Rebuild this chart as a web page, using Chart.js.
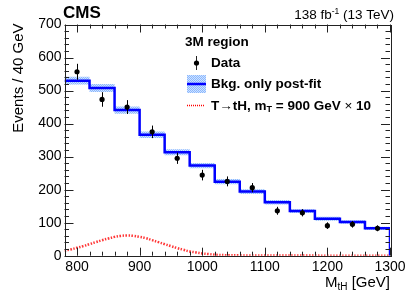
<!DOCTYPE html>
<html>
<head>
<meta charset="utf-8">
<script src="https://cdn.jsdelivr.net/npm/chart.js@4.4.1/dist/chart.umd.min.js"></script>
<style>
  html, body { margin: 0; background: #fff; }
  canvas { display: block; }
</style>
</head>
<body>
<canvas id="mth" width="407" height="294"></canvas>
<script>
// ── Data ──────────────────────────────────────────────────────
const binEdges  = [780, 820, 860, 900, 940, 980, 1020, 1060, 1100, 1140, 1180, 1220, 1260, 1300];
const bkgValues = [530, 508, 441, 366, 313, 273, 224, 194, 162, 135, 112, 102, 83];
const bkgUnc    = [12, 12, 11, 10, 9, 8, 8, 7, 7, 6, 6, 5, 5];

const dataX   = [800, 840, 880, 920, 960, 1000, 1040, 1080, 1120, 1160, 1200, 1240, 1280];
const dataY   = [557, 473, 450, 375, 295, 244, 225, 206, 136, 130, 91, 95, 83];
const dataErr = [24, 22, 21, 19, 17, 16, 15, 14, 12, 11, 10, 10, 9];

const sigX = [780, 790, 800, 810, 820, 830, 840, 850, 860, 870, 880, 890, 900, 910, 920, 930,
              940, 950, 960, 970, 980, 990, 1000, 1010, 1020, 1040, 1060, 1100, 1200, 1300];
const sigY = [15, 19, 24, 29, 35, 41, 47, 52, 57, 60, 61, 60, 57, 53, 47, 41,
              35, 29, 23, 18, 13, 10, 7, 5, 3, 1.5, 1, 0.5, 0.2, 0.1];

const xTicks = [800, 900, 1000, 1100, 1200, 1300];
const yTicks = [0, 100, 200, 300, 400, 500, 600, 700];

const FONT = '"Liberation Sans", Arial, Helvetica, sans-serif';

// step-histogram points (stepped: 'before' draws horizontal first)
function stepPts(vals, dropToZero) {
  const pts = vals.map((v, i) => ({ x: binEdges[i], y: v }));
  pts.push({ x: binEdges[binEdges.length - 1], y: vals[vals.length - 1] });
  if (dropToZero) pts.push({ x: binEdges[binEdges.length - 1], y: 0 });
  return pts;
}

function bandPattern() {
  const p = document.createElement('canvas');
  p.width = 2; p.height = 2;
  const c = p.getContext('2d');
  c.fillStyle = '#cfe2ff'; c.fillRect(0, 0, 2, 2);
  c.fillStyle = '#8ab8ff'; c.fillRect(0, 0, 1, 1); c.fillRect(1, 1, 1, 1);
  return c.createPattern(p, 'repeat');
}

const band = bandPattern();

// ── ROOT-style frame, ticks, labels, legend, error bars ───────
const rootStyle = {
  id: 'rootStyle',
  afterDatasetsDraw(chart) {
    const { ctx, chartArea: a, scales: { x, y } } = chart;
    ctx.save();

    // error bars on data
    ctx.strokeStyle = '#000';
    ctx.lineWidth = 1;
    dataX.forEach((m, i) => {
      const px = Math.round(x.getPixelForValue(m)) + 0.5;
      ctx.beginPath();
      ctx.moveTo(px, y.getPixelForValue(dataY[i] + dataErr[i]));
      ctx.lineTo(px, y.getPixelForValue(dataY[i] - dataErr[i]));
      ctx.stroke();
    });

    // frame
    ctx.strokeStyle = '#222';
    ctx.lineWidth = 1;
    ctx.strokeRect(Math.round(a.left) + 0.5, Math.round(a.top) + 0.5,
                   Math.round(a.right - a.left), Math.round(a.bottom - a.top));

    // y ticks (major 100, minor 20) on both sides
    ctx.beginPath();
    for (let v = 0; v <= 700; v += 20) {
      const py = Math.round(y.getPixelForValue(v)) + 0.5;
      const len = v % 100 === 0 ? 9 : 4.5;
      ctx.moveTo(a.left, py); ctx.lineTo(a.left + len, py);
      ctx.moveTo(a.right, py); ctx.lineTo(a.right - len, py);
    }
    // x ticks (major 100, minor 20) bottom and top
    for (let v = 780; v <= 1300; v += 20) {
      const px = Math.round(x.getPixelForValue(v)) + 0.5;
      const len = v % 100 === 0 ? 8 : 4;
      ctx.moveTo(px, a.bottom); ctx.lineTo(px, a.bottom - len);
      ctx.moveTo(px, a.top); ctx.lineTo(px, a.top + len);
    }
    ctx.stroke();

    // tick labels
    ctx.fillStyle = '#000';
    ctx.font = `14px ${FONT}`;
    ctx.textAlign = 'right';
    ctx.textBaseline = 'middle';
    yTicks.forEach(v => ctx.fillText(String(v), a.left - 3, y.getPixelForValue(v)));
    ctx.textAlign = 'center';
    ctx.textBaseline = 'top';
    xTicks.forEach(v => ctx.fillText(String(v), x.getPixelForValue(v), a.bottom + 4));

    // axis titles
    ctx.font = `15px ${FONT}`;
    ctx.save();
    ctx.translate(23, a.top - 1);
    ctx.rotate(-Math.PI / 2);
    ctx.textAlign = 'right';
    ctx.textBaseline = 'alphabetic';
    ctx.fillText('Events / 40 GeV', 0, 0);
    ctx.restore();

    ctx.textAlign = 'left';
    ctx.textBaseline = 'alphabetic';
    const bw = ctx.measureText(' [GeV]').width;
    ctx.font = `15px ${FONT}`;
    const mW = ctx.measureText('M').width;
    ctx.font = `10px ${FONT}`;
    const sW = ctx.measureText('tH').width;
    let tx = a.right - bw - sW - mW;
    ctx.font = `15px ${FONT}`;
    ctx.fillText('M', tx, 287);
    ctx.font = `10px ${FONT}`;
    ctx.fillText('tH', tx + mW, 290);
    ctx.font = `15px ${FONT}`;
    ctx.fillText(' [GeV]', tx + mW + sW, 287);

    // CMS + lumi
    ctx.font = `bold 17px ${FONT}`;
    ctx.fillText('CMS', 63, 18);
    ctx.font = `13.5px ${FONT}`;
    ctx.textAlign = 'right';
    const tail = ' (13 TeV)';
    const tailW = ctx.measureText(tail).width;
    ctx.fillText(tail, 394, 19);
    ctx.font = `8.5px ${FONT}`;
    const supW = ctx.measureText('-1').width;
    ctx.fillText('-1', 394 - tailW, 14);
    ctx.font = `13.5px ${FONT}`;
    ctx.fillText('138 fb', 394 - tailW - supW, 19);

    // legend
    ctx.textAlign = 'left';
    ctx.textBaseline = 'middle';
    ctx.font = `bold 13.5px ${FONT}`;
    ctx.fillText('3M region', 185, 42);
    ctx.fillText('Data', 211, 63);
    ctx.fillText('Bkg. only post-fit', 211, 84);
    // data marker
    ctx.beginPath();
    ctx.moveTo(196.5, 56); ctx.lineTo(196.5, 70);
    ctx.stroke();
    ctx.beginPath();
    ctx.arc(196.5, 63, 2.6, 0, Math.PI * 2);
    ctx.fill();
    // band marker
    ctx.fillStyle = band;
    ctx.fillRect(187, 75, 19, 18);
    ctx.strokeStyle = '#0000ff';
    ctx.lineWidth = 2.5;
    ctx.beginPath();
    ctx.moveTo(187, 84); ctx.lineTo(206, 84);
    ctx.stroke();
    // signal marker
    ctx.strokeStyle = '#ff0000';
    ctx.lineWidth = 1.5;
    ctx.setLineDash([1, 1]);
    ctx.beginPath();
    ctx.moveTo(187, 105.5); ctx.lineTo(205, 105.5);
    ctx.stroke();
    ctx.setLineDash([]);
    ctx.fillStyle = '#000';
    let lx = 211;
    const seg = (t, f, dy) => { ctx.font = f; ctx.fillText(t, lx, 106 + (dy || 0)); lx += ctx.measureText(t).width; };
    seg('T\u2192tH, m', `bold 13.5px ${FONT}`);
    seg('T', `bold 9px ${FONT}`, 4);
    seg(' = 900 GeV ', `bold 13.5px ${FONT}`);
    seg('\u00d7', `13.5px ${FONT}`);
    seg(' 10', `bold 13.5px ${FONT}`);

    ctx.restore();
  }
};

new Chart(document.getElementById('mth'), {
  type: 'line',
  data: {
    datasets: [
      {
        data: stepPts(bkgValues.map((v, i) => v - bkgUnc[i]), false),
        stepped: 'before', borderWidth: 0, pointRadius: 0, fill: false, order: 5
      },
      {
        data: stepPts(bkgValues.map((v, i) => v + bkgUnc[i]), false),
        stepped: 'before', borderWidth: 0, pointRadius: 0,
        fill: '-1', backgroundColor: band, order: 4
      },
      {
        data: stepPts(bkgValues, true),
        stepped: 'before', borderColor: '#0000ff', borderWidth: 2.5,
        pointRadius: 0, fill: false, order: 3
      },
      {
        data: sigX.map((m, i) => ({ x: m, y: sigY[i] })),
        borderColor: 'rgba(255,20,20,0.85)', borderWidth: 2.5, borderDash: [1.5, 1.5],
        tension: 0.4, pointRadius: 0, fill: false, order: 2
      },
      {
        type: 'scatter',
        data: dataX.map((m, i) => ({ x: m, y: dataY[i] })),
        pointRadius: 2.6, pointBackgroundColor: '#000', pointBorderWidth: 0,
        showLine: false, order: 1
      }
    ]
  },
  options: {
    responsive: false,
    animation: false,
    layout: { padding: { left: 64.5, right: 17, top: 24.5, bottom: 38.3 } },
    plugins: { legend: { display: false }, tooltip: { enabled: false } },
    scales: {
      x: { type: 'linear', min: 780, max: 1300, display: false },
      y: { min: 0, max: 700, display: false }
    }
  },
  plugins: [rootStyle]
});
</script>
</body>
</html>
